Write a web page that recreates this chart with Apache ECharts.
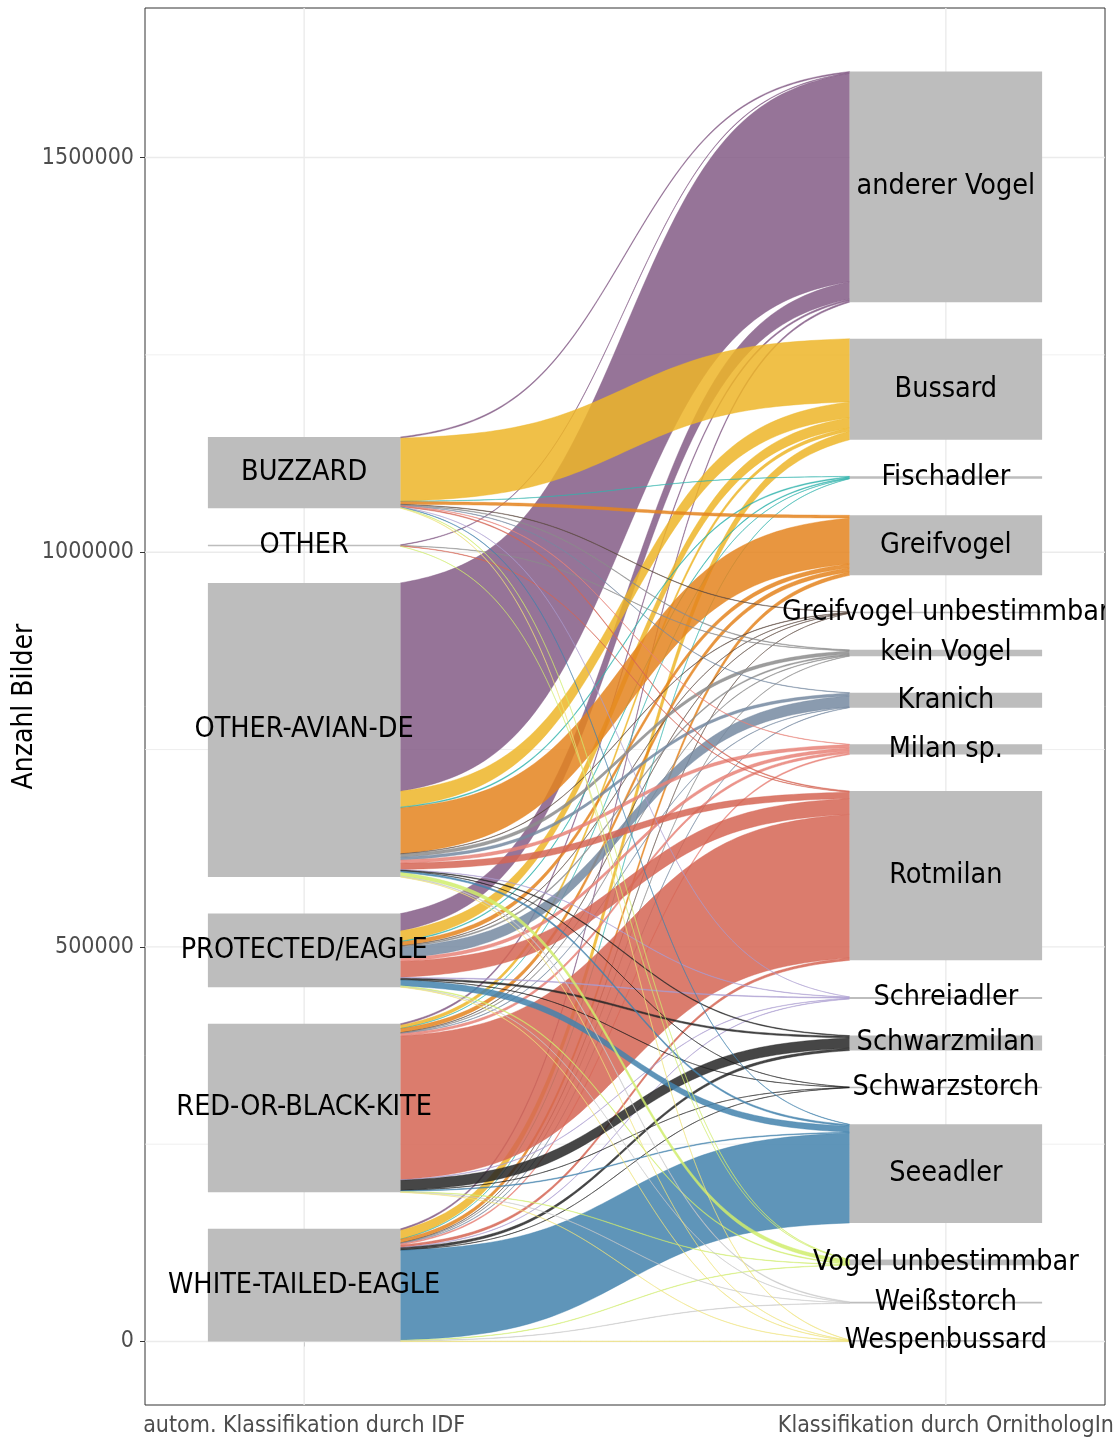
<!DOCTYPE html>
<html>
<head>
<meta charset="utf-8">
<script src="https://cdn.jsdelivr.net/npm/echarts@6/dist/echarts.min.js"></script>
<style>
  html, body { margin: 0; padding: 0; background: #ffffff; }
  #chart { width: 1114px; height: 1438px; }
</style>
</head>
<body>
<div id="chart"></div>
<script>
// Classes assigned by the IDF system (left column, top to bottom)
const idfClasses = ["BUZZARD", "OTHER", "OTHER-AVIAN-DE", "PROTECTED/EAGLE", "RED-OR-BLACK-KITE", "WHITE-TAILED-EAGLE"];

// Classes assigned by ornithologists (right column, top to bottom)
const ornithoClasses = ["anderer Vogel", "Bussard", "Fischadler", "Greifvogel", "Greifvogel unbestimmbar",
  "kein Vogel", "Kranich", "Milan sp.", "Rotmilan", "Schreiadler", "Schwarzmilan", "Schwarzstorch",
  "Seeadler", "Vogel unbestimmbar", "Weißstorch", "Wespenbussard"];

// Number of images per IDF class, split by ornithologist class (order of ornithoClasses)
const fromBuzzard      = [1500, 80000, 300, 3500, 500, 800, 500, 500, 1000, 200, 0, 0, 500, 500, 0, 500];
const fromOther        = [800, 0, 0, 0, 0, 500, 0, 0, 500, 0, 0, 0, 0, 200, 0, 0];
const fromOtherAvian   = [264000, 20000, 1200, 58000, 500, 4000, 3500, 4000, 8000, 500, 1000, 200, 2000, 4500, 1000, 300];
const fromProtected    = [22000, 13000, 1000, 5000, 300, 1500, 14000, 4000, 20000, 1000, 2000, 200, 7500, 1000, 300, 400];
const fromKite         = [2000, 4000, 300, 5000, 300, 700, 500, 3000, 182000, 500, 13000, 200, 1000, 500, 300, 300];
const fromWhiteTailed  = [2000, 11000, 300, 4500, 200, 500, 500, 1500, 3000, 500, 3000, 200, 114000, 500, 500, 500];

// Flow colour for each ornithologist class
const flowColors = ["#845C86", "#EDB528", "#31B3AD", "#E4841E", "#5B4A3F", "#8C8C8C", "#7589A1", "#E88378",
  "#D56554", "#A99BD0", "#262626", "#1A1A1A", "#4383AD", "#D0ED6C", "#C8C8C8", "#EFE27A"];

// Axis ticks and grid
const yMajorTicks = [0, 500000, 1000000, 1500000];
const yMinorTicks = [250000, 750000, 1250000];
const stepLabels = ["autom. Klassifikation durch IDF", "Klassifikation durch OrnithologIn"];

// ---- layout helpers ----
const flowRows = [fromBuzzard, fromOther, fromOtherAvian, fromProtected, fromKite, fromWhiteTailed];
const NODE_GAP = 46300;   // vertical space between nodes, in image counts
const NODE_W = 0.3;       // node width in x-axis units
const SMOOTH = 4;         // steepness of the sigmoid flows
const X_MIN = 0.752, X_MAX = 2.248;
const FONT = '"DejaVu Sans Condensed", "DejaVu Sans", sans-serif';

const sum = a => a.reduce((s, v) => s + v, 0);
const leftTotals = flowRows.map(sum);
const rightTotals = ornithoClasses.map((_, j) => sum(flowRows.map(r => r[j])));

// stack nodes upward from zero, last class at the bottom
function stackNodes(totals) {
  const pos = new Array(totals.length);
  let y = 0;
  for (let i = totals.length - 1; i >= 0; i--) {
    pos[i] = [y, y + totals[i]];
    y += totals[i] + NODE_GAP;
  }
  return pos;
}
const leftPos = stackNodes(leftTotals);
const rightPos = stackNodes(rightTotals);
const yTop = Math.max(leftPos[0][1], rightPos[0][1]);
const Y_MIN = -0.05 * yTop, Y_MAX = 1.05 * yTop;

// band edges at source (ordered by target) and at target (ordered by source)
const srcEdge = {}, tgtEdge = {};
leftPos.forEach((p, i) => {
  let c = p[1];
  flowRows[i].forEach((v, j) => { if (v > 0) { srcEdge[i + '_' + j] = [c, c - v]; c -= v; } });
});
rightPos.forEach((p, j) => {
  let c = p[1];
  flowRows.forEach((r, i) => { const v = r[j]; if (v > 0) { tgtEdge[i + '_' + j] = [c, c - v]; c -= v; } });
});
const bandData = [];
ornithoClasses.forEach((_, j) => {
  flowRows.forEach((r, i) => {
    if (r[j] > 0) {
      const s = srcEdge[i + '_' + j], t = tgtEdge[i + '_' + j];
      bandData.push([1 + NODE_W / 2, s[0], s[1], 2 - NODE_W / 2, t[0], t[1], j]);
    }
  });
});

const nodeData = [];
const labelData = [];
leftPos.forEach((p, i) => { nodeData.push([1, p[0], p[1]]); labelData.push([1, (p[0] + p[1]) / 2, 0, i]); });
rightPos.forEach((p, j) => { nodeData.push([2, p[0], p[1]]); labelData.push([2, (p[0] + p[1]) / 2, 1, j]); });

const sig = u => 1 / (1 + Math.exp(-u));
const f0 = sig(-SMOOTH), f1 = sig(SMOOTH);

const chart = echarts.init(document.getElementById('chart'), null, { renderer: 'canvas' });
chart.setOption({
  animation: false,
  backgroundColor: '#ffffff',
  grid: { left: 145, right: 9, top: 8, bottom: 33, show: true, backgroundColor: '#ffffff',
          borderColor: '#333333', borderWidth: 1, containLabel: false, outerBoundsMode: 'none' },
  xAxis: {
    type: 'value', min: X_MIN, max: X_MAX,
    axisLine: { show: false },
    splitLine: { show: false },
    axisTick: { show: true, length: 5, lineStyle: { color: '#333333', width: 1 }, customValues: [1, 2] },
    axisLabel: { customValues: [1, 2], margin: 10, color: '#4D4D4D', fontSize: 23, fontFamily: FONT,
                 formatter: v => stepLabels[Math.round(v) - 1] }
  },
  yAxis: {
    type: 'value', min: Y_MIN, max: Y_MAX,
    name: 'Anzahl Bilder', nameLocation: 'middle', nameGap: 106, nameMoveOverlap: false,
    nameTextStyle: { color: '#000000', fontSize: 28, fontFamily: FONT },
    axisLine: { show: false },
    splitLine: { show: false },
    axisTick: { show: true, length: 5, lineStyle: { color: '#333333', width: 1 }, customValues: yMajorTicks },
    axisLabel: { customValues: yMajorTicks, margin: 11, color: '#4D4D4D', fontSize: 23, fontFamily: FONT,
                 formatter: v => String(Math.round(v)) }
  },
  series: [
    {
      // panel grid lines
      type: 'custom', z: 1, silent: true, clip: true,
      data: [[0]],
      renderItem: (params, api) => {
        const children = [];
        yMinorTicks.forEach(v => {
          const a = api.coord([X_MIN, v]), b = api.coord([X_MAX, v]);
          children.push({ type: 'line', shape: { x1: a[0], y1: a[1], x2: b[0], y2: b[1] },
                          style: { stroke: '#EBEBEB', lineWidth: 0.8 } });
        });
        yMajorTicks.forEach(v => {
          const a = api.coord([X_MIN, v]), b = api.coord([X_MAX, v]);
          children.push({ type: 'line', shape: { x1: a[0], y1: a[1], x2: b[0], y2: b[1] },
                          style: { stroke: '#EBEBEB', lineWidth: 1.4 } });
        });
        [1, 2].forEach(x => {
          const a = api.coord([x, Y_MIN]), b = api.coord([x, Y_MAX]);
          children.push({ type: 'line', shape: { x1: a[0], y1: a[1], x2: b[0], y2: b[1] },
                          style: { stroke: '#EBEBEB', lineWidth: 1.4 } });
        });
        return { type: 'group', children };
      }
    },
    {
      // flows between the two classifications
      type: 'custom', z: 2, silent: true, clip: true,
      encode: { x: [0, 3], y: [1, 2, 4, 5] },
      data: bandData,
      renderItem: (params, api) => {
        const x0 = api.value(0), s0 = api.value(1), s1 = api.value(2);
        const x1 = api.value(3), t0 = api.value(4), t1 = api.value(5);
        const color = flowColors[api.value(6)];
        const N = 80, top = [], bot = [];
        for (let k = 0; k <= N; k++) {
          const u = -SMOOTH + 2 * SMOOTH * k / N;
          const f = (sig(u) - f0) / (f1 - f0);
          const x = x0 + (x1 - x0) * k / N;
          top.push(api.coord([x, s0 + (t0 - s0) * f]));
          bot.push(api.coord([x, s1 + (t1 - s1) * f]));
        }
        return {
          type: 'polygon',
          shape: { points: top.concat(bot.reverse()) },
          style: { fill: color, stroke: color, lineWidth: 0.5, opacity: 0.85 }
        };
      }
    },
    {
      // class nodes
      type: 'custom', z: 3, silent: true, clip: true,
      encode: { x: 0, y: [1, 2] },
      data: nodeData,
      renderItem: (params, api) => {
        const x = api.value(0);
        const a = api.coord([x - NODE_W / 2, api.value(2)]);
        const b = api.coord([x + NODE_W / 2, api.value(1)]);
        const h = Math.max(b[1] - a[1], 1.5);
        return {
          type: 'rect',
          shape: { x: a[0], y: (a[1] + b[1]) / 2 - h / 2, width: b[0] - a[0], height: h },
          style: { fill: '#BDBDBD' }
        };
      }
    },
    {
      // class labels
      type: 'custom', z: 4, silent: true, clip: true,
      encode: { x: 0, y: 1 },
      data: labelData,
      renderItem: (params, api) => {
        const p = api.coord([api.value(0), api.value(1)]);
        const names = api.value(2) === 0 ? idfClasses : ornithoClasses;
        return {
          type: 'text',
          style: { x: p[0], y: p[1], text: names[api.value(3)], fill: '#000000',
                   fontSize: 28.5, fontFamily: FONT, align: 'center', verticalAlign: 'middle' }
        };
      }
    }
  ]
});
</script>
</body>
</html>
